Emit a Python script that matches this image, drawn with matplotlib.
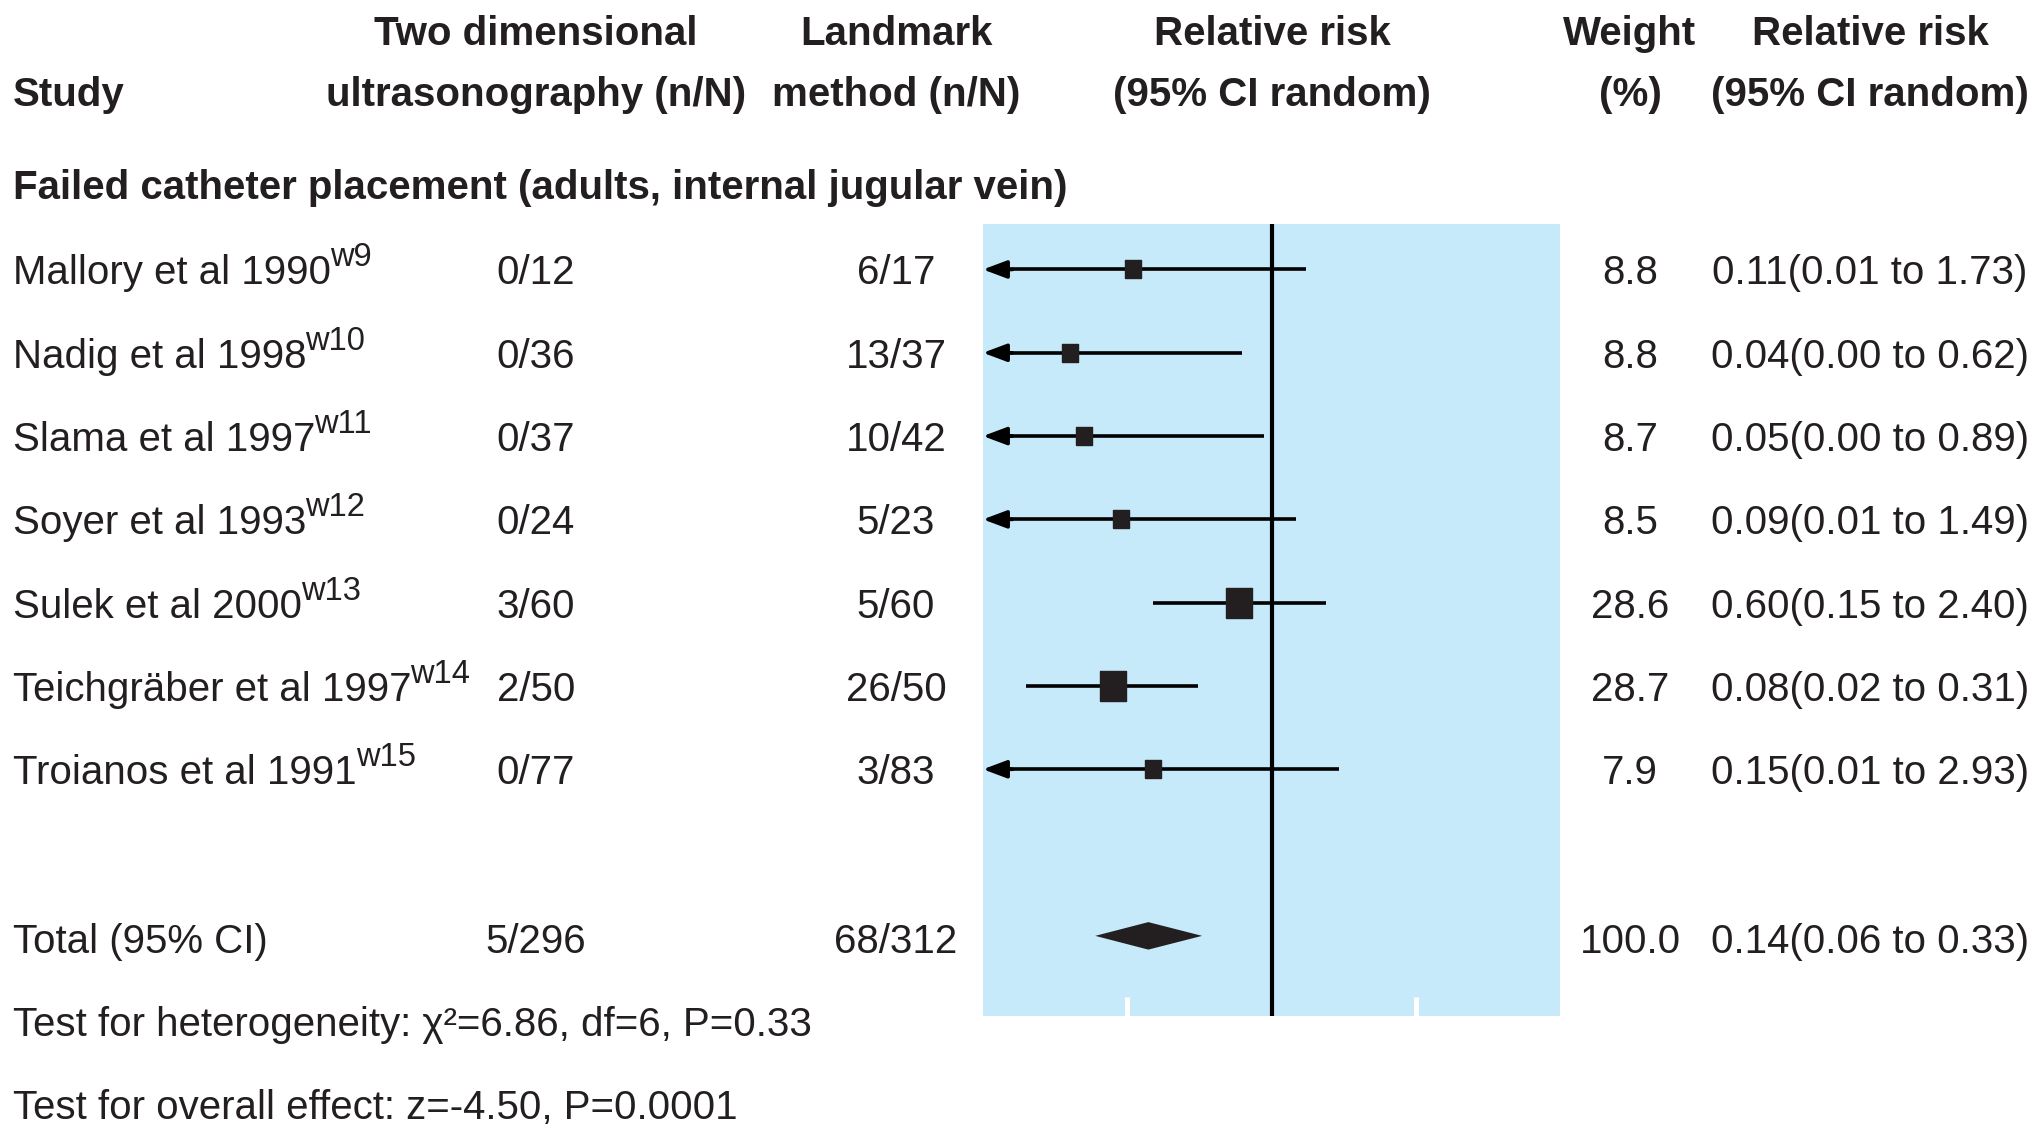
import matplotlib
matplotlib.use("Agg")
import matplotlib.pyplot as plt
from matplotlib import transforms
from matplotlib.ticker import NullLocator, FixedLocator
import numpy as np

# ---------------- data ----------------
studies = ["Mallory et al 1990", "Nadig et al 1998", "Slama et al 1997",
           "Soyer et al 1993", "Sulek et al 2000", "Teichgräber et al 1997",
           "Troianos et al 1991"]
refs = ["w9", "w10", "w11", "w12", "w13", "w14", "w15"]
ultrasound = ["0/12", "0/36", "0/37", "0/24", "3/60", "2/50", "0/77"]
landmark = ["6/17", "13/37", "10/42", "5/23", "5/60", "26/50", "3/83"]
weights = [8.8, 8.8, 8.7, 8.5, 28.6, 28.7, 7.9]
rr = [0.11, 0.04, 0.05, 0.09, 0.60, 0.08, 0.15]
rr_lo = [0.01, 0.00, 0.00, 0.01, 0.15, 0.02, 0.01]
rr_hi = [1.73, 0.62, 0.89, 1.49, 2.40, 0.31, 2.93]

total_label = "Total (95% CI)"
total_us = "5/296"
total_lm = "68/312"
total_weight = 100.0
total_rr, total_lo, total_hi = 0.14, 0.06, 0.33

section_title = "Failed catheter placement (adults, internal jugular vein)"
heterogeneity = "Test for heterogeneity: χ²=6.86, df=6, P=0.33"
overall = "Test for overall effect: z=-4.50, P=0.0001"

x_min, x_max = 0.01, 100
x_ticks = [0.1, 10]

# ---------------- style ----------------
W, H = 2041, 1129
DARK = "#231F20"
BLUE = "#C6EAFA"
FS = 29
FS_SUP = 23.5
plt.rcParams["font.family"] = ["Liberation Sans", "DejaVu Sans"]

fig = plt.figure(figsize=(W / 100, H / 100), dpi=100)
ax = fig.add_axes([983 / W, 1 - 1016 / H, 577 / W, 792 / H])
ax.set_xscale("log")
ax.set_xlim(x_min, x_max)
ax.set_ylim(8.962, -0.546)
ax.set_facecolor(BLUE)
for s in ax.spines.values():
    s.set_visible(False)
ax.xaxis.set_major_locator(FixedLocator(x_ticks))
ax.xaxis.set_minor_locator(NullLocator())
ax.set_xticklabels([])
ax.set_yticks([])
ax.tick_params(axis="x", direction="in", length=14, width=3.6, colors="white")

ax.axvline(1, color="black", lw=3.0, zorder=3)

n = len(studies)
ys = np.arange(n)
for i in range(n):
    lo = rr_lo[i]
    hi = rr_hi[i]
    if lo <= x_min:
        ax.plot([x_min * 1.25, hi], [ys[i], ys[i]], color="black", lw=2.6,
                zorder=4, solid_capstyle="butt")
        ax.annotate("", xy=(x_min, ys[i]), xytext=(x_min * 1.6, ys[i]),
                    arrowprops=dict(arrowstyle="-|>,head_length=0.72,head_width=0.27",
                                    mutation_scale=20, lw=2.6, color="black",
                                    shrinkA=0, shrinkB=0),
                    zorder=4)
    else:
        ax.plot([lo, hi], [ys[i], ys[i]], color="black", lw=2.6, zorder=4,
                solid_capstyle="butt")
    h_px = 4 + 5.0 * np.sqrt(weights[i])
    ax.plot([rr[i]], [ys[i]], marker=[(-1, -1.15), (1, -1.15), (1, 1.15), (-1, 1.15), (-1, -1.15)],
            ms=h_px * 0.72, color=DARK, mec=DARK, zorder=5, linestyle="none")

# total diamond
y_tot = n + 1
dh = 0.165
ax.fill([total_lo, total_rr, total_hi, total_rr],
        [y_tot, y_tot - dh, y_tot, y_tot + dh], color=DARK, zorder=5, lw=0)

# ---------------- text ----------------
blend = transforms.blended_transform_factory(fig.transFigure, ax.transData)
trow = transforms.offset_copy(blend, fig=fig, x=0, y=-15, units="dots")
trow2 = transforms.offset_copy(blend, fig=fig, x=0, y=-17, units="dots")
tsup = transforms.offset_copy(blend, fig=fig, x=0, y=3, units="dots")

X_STUDY, X_US, X_LM, X_RRH, X_W, X_RR = 13, 536, 896, 1272, 1630, 1870

def ftxt(x, y, s, **kw):
    kw.setdefault("fontsize", FS)
    kw.setdefault("color", DARK)
    return fig.text(x / W, y, s, **kw)

renderer = fig.canvas.get_renderer()
for i in range(n):
    t = ftxt(X_STUDY, ys[i], studies[i], transform=trow, va="baseline", ha="left")
    bb = t.get_window_extent(renderer=renderer)
    fig.text((bb.x1 - 1) / W, ys[i], refs[i], transform=tsup, va="baseline",
             ha="left", fontsize=FS_SUP, color=DARK)
    ftxt(X_US, ys[i], ultrasound[i], transform=trow, va="baseline", ha="center")
    ftxt(X_LM, ys[i], landmark[i], transform=trow, va="baseline", ha="center")
    ftxt(X_W, ys[i], f"{weights[i]:.1f}", transform=trow, va="baseline", ha="center")
    ftxt(X_RR, ys[i], f"{rr[i]:.2f}({rr_lo[i]:.2f} to {rr_hi[i]:.2f})",
         transform=trow, va="baseline", ha="center")

ftxt(X_STUDY, y_tot, total_label, transform=trow2, va="baseline", ha="left")
ftxt(X_US, y_tot, total_us, transform=trow2, va="baseline", ha="center")
ftxt(X_LM, y_tot, total_lm, transform=trow2, va="baseline", ha="center")
ftxt(X_W, y_tot, f"{total_weight:.1f}", transform=trow2, va="baseline", ha="center")
ftxt(X_RR, y_tot, f"{total_rr:.2f}({total_lo:.2f} to {total_hi:.2f})",
     transform=trow2, va="baseline", ha="center")
ftxt(X_STUDY, y_tot + 1, heterogeneity, transform=trow2, va="baseline", ha="left")
ftxt(X_STUDY, y_tot + 2, overall, transform=trow2, va="baseline", ha="left")

# headers (pixel baselines)
def htxt(x, ybase, s, ha="center"):
    fig.text(x / W, 1 - ybase / H, s, fontsize=FS, color=DARK, fontweight="bold",
             ha=ha, va="baseline")

htxt(X_STUDY, 106, "Study", ha="left")
htxt(X_US, 45, "Two dimensional")
htxt(X_US, 106, "ultrasonography (n/N)")
htxt(X_LM, 45, "Landmark")
htxt(X_LM, 106, "method (n/N)")
htxt(X_RRH, 45, "Relative risk")
htxt(X_RRH, 106, "(95% CI random)")
htxt(X_W, 45, "Weight")
htxt(X_W, 106, "(%)")
htxt(X_RR, 45, "Relative risk")
htxt(X_RR, 106, "(95% CI random)")
htxt(X_STUDY, 199, section_title, ha="left")

fig.savefig("out.png", dpi=100)
